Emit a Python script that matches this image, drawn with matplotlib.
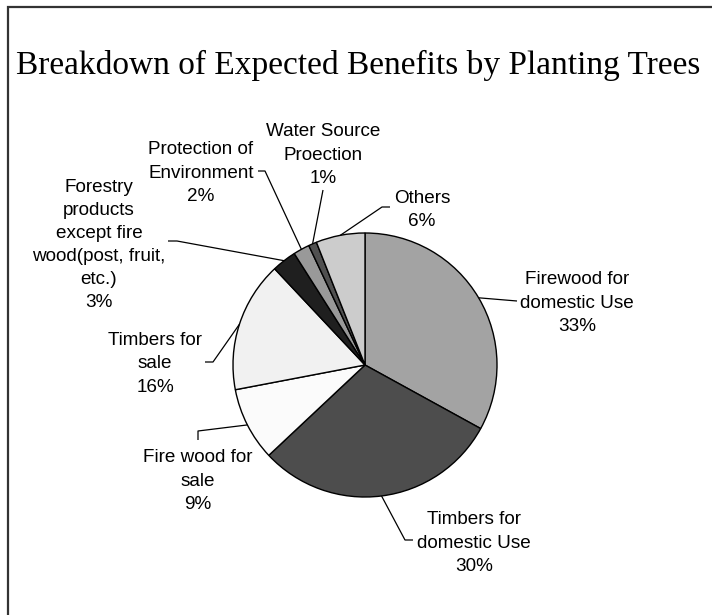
import numpy as np
import matplotlib
matplotlib.use("Agg")
import matplotlib.pyplot as plt
from matplotlib.patches import Rectangle

# Survey shares (percent), clockwise from 12 o'clock
categories = [
    "Firewood for\ndomestic Use",
    "Timbers for\ndomestic Use",
    "Fire wood for\nsale",
    "Timbers for\nsale",
    "Forestry\nproducts\nexcept fire\nwood(post, fruit,\netc.)",
    "Protection of\nEnvironment",
    "Water Source\nProection",
    "Others",
]
shares = [33, 30, 9, 16, 3, 2, 1, 6]
colors = ["#a3a3a3", "#4d4d4d", "#fbfbfb", "#f1f1f1", "#1f1f1f", "#999999", "#505050", "#cccccc"]

W, H = 712, 615
fig = plt.figure(figsize=(W / 100, H / 100), dpi=100)
ax = fig.add_axes([0, 0, 1, 1])


def P(x, y):
    """Pixel-style layout position (origin top-left) to axes data."""
    return x, H - y


# Frame around the chart area
fig.patches.append(Rectangle((8 / W, -0.1), 1.2, 1 - 7 / H + 0.1, transform=fig.transFigure,
                             fill=False, edgecolor="#333333", linewidth=1.6))

cx, cy = P(365, 365)
R = 132
wedges, _ = ax.pie(shares, colors=colors, startangle=90, counterclock=False,
                   center=(cx, cy), radius=R, frame=True,
                   wedgeprops=dict(edgecolor="black", linewidth=1.0))
ax.set_xlim(0, W)
ax.set_ylim(0, H)
ax.set_aspect("equal")
ax.axis("off")

# Label block centres and leader-line routes (elbow points after the wedge edge)
label_pos = [(577, 303), (474, 543), (198, 481), (155, 364), (99, 245), (201, 173), (323, 155), (422, 210)]
leader_routes = [
    [(517, 301)],
    [(405, 540), (413, 540)],
    [(198, 431), (198, 440)],
    [(213, 362), (205, 362)],
    [(177, 241), (168, 241)],
    [(265, 171), (258, 171)],
    [(323, 190)],
    [(382, 207), (390, 207)],
]

font = dict(family=["Liberation Sans", "DejaVu Sans"], size=13.6, color="black")
for w, cat, val, (lx, ly), route in zip(wedges, categories, shares, label_pos, leader_routes):
    mid = np.deg2rad((w.theta1 + w.theta2) / 2)
    ex, ey = cx + R * np.cos(mid), cy + R * np.sin(mid)
    pts = [(ex, ey)] + [P(*p) for p in route]
    xs, ys = zip(*pts)
    ax.plot(xs, ys, color="black", linewidth=0.9, solid_capstyle="butt")
    tx, ty = P(lx, ly)
    ax.text(tx, ty, f"{cat}\n{val}%", ha="center", va="center", multialignment="center",
            linespacing=1.47, **font)

tx, ty = P(358, 74)
ax.text(tx, ty, "Breakdown of Expected Benefits by Planting Trees", ha="center", va="baseline",
        family=["Liberation Serif", "DejaVu Serif"], size=24, color="black")

fig.savefig("out.png", dpi=100)
